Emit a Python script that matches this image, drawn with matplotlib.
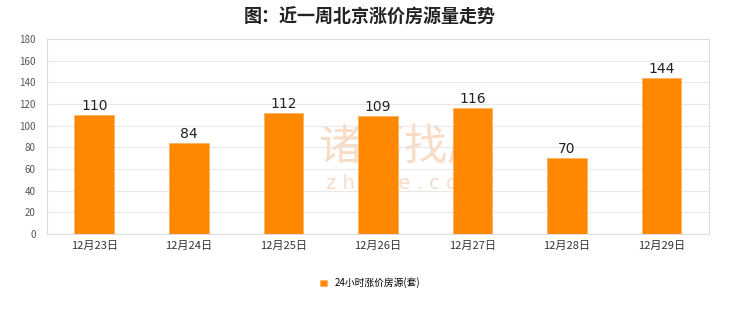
import numpy as np
import matplotlib.pyplot as plt

plt.rcParams['font.family'] = ['Noto Sans CJK SC', 'DejaVu Sans']

dates = ["12月23日", "12月24日", "12月25日", "12月26日", "12月27日", "12月28日", "12月29日"]
counts = [110, 84, 112, 109, 116, 70, 144]
series_name = "24小时涨价房源(套)"
yticks = [0, 20, 40, 60, 80, 100, 120, 140, 160, 180]

fig = plt.figure(figsize=(7.4, 3.12), dpi=100)
ax = fig.add_axes([0.0635, 0.25, 0.8945, 0.625])

x = np.arange(len(dates))
bars = ax.bar(x, counts, width=0.42, color="#ff8800", edgecolor="#ffb060", linewidth=0.6,
              label=series_name, zorder=3)
for xi, v in zip(x, counts):
    ax.text(xi, v + 2, str(v), ha="center", va="bottom", fontsize=10,
            family="DejaVu Sans", color="#222222", zorder=4)

ax.set_xlim(-0.5, len(dates) - 0.5)
ax.set_ylim(0, 180)
ax.set_yticks(yticks)
ax.set_xticks(x)
ax.set_xticklabels(dates, fontsize=8, color="#333333")
ax.tick_params(axis="y", labelsize=7, colors="#555555", length=0, pad=8)
ax.tick_params(axis="x", length=0, pad=5)
ax.grid(axis="y", color="#e8e8e8", linewidth=0.8, zorder=2)
for s in ax.spines.values():
    s.set_color("#dddddd")
    s.set_linewidth(0.8)

# watermark behind the bars
ax.text(3.28, 80, "诸葛找房", fontsize=31, color="#f7dcc6", ha="center", va="center", zorder=1)
ax.text(3.28, 47, "z h u g e . c o m", fontsize=14, color="#f7dcc6", ha="center", va="center",
        family="DejaVu Sans", zorder=1)

fig.suptitle("图：近一周北京涨价房源量走势", fontsize=13, fontweight="bold", y=0.975, color="#222222")

fig.legend(handles=[bars], labels=[series_name], loc="center", bbox_to_anchor=(0.5, 0.093),
           frameon=False, fontsize=7, handlelength=0.7, handleheight=0.7, handletextpad=0.8)

fig.savefig("out.png", dpi=100, facecolor="white")
